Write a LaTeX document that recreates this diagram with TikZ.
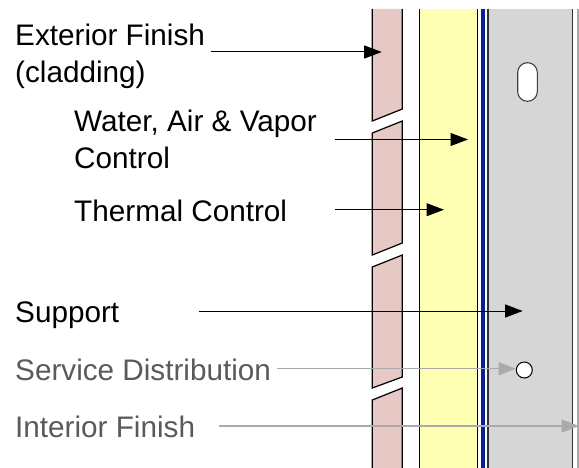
\documentclass[tikz,border=0pt]{standalone}
\usepackage{fontspec}
\setmainfont{Liberation Sans}
\usetikzlibrary{arrows.meta,positioning}
\definecolor{BrickPink}{RGB}{230,200,196}
\definecolor{SoftYellow}{RGB}{255,255,179}
\definecolor{MembraneBlue}{RGB}{10,30,150}
\definecolor{StudGray}{RGB}{214,214,214}
\definecolor{LabelGray}{RGB}{90,90,90}
\definecolor{ArrowGray}{RGB}{170,170,170}
\tikzset{
  layer/.style={draw=black, line width=1.2pt},
  walllabel/.style={inner sep=0pt, anchor=base west, align=left, font=\fontsize{29.7}{36.5}\selectfont},
  graylabel/.style={walllabel, text=LabelGray},
  arrow/.style={-{Triangle[length=17.5pt,width=13pt]}, line width=1pt, black},
  grayarrow/.style={-{Triangle[length=17.5pt,width=13pt]}, line width=1.4pt, ArrowGray}
}
\begin{document}
\begin{tikzpicture}[x=1pt,y=-1pt]
  \useasboundingbox (0,0) rectangle (579,468);
  % wall layers
  \fill[StudGray] (488,9) rectangle (572,468);
  \draw[layer, fill=BrickPink] (372.3,9) -- (372.3,121) -- (402.3,109) -- (402.3,9);
  \draw[layer, fill=BrickPink] (372.3,133) -- (402.3,121) -- (402.3,243) -- (372.3,255) -- cycle;
  \draw[layer, fill=BrickPink] (372.3,267) -- (402.3,255) -- (402.3,377) -- (372.3,388) -- cycle;
  \draw[layer, fill=BrickPink] (372.3,468) -- (372.3,400) -- (402.3,388) -- (402.3,468);
  \fill[SoftYellow] (419.3,9) rectangle (477.3,468);
  \draw[layer] (419.3,9) -- (419.3,468);
  \draw[layer] (477.3,9) -- (477.3,468);
  \fill[MembraneBlue] (480.6,9) rectangle (485.2,468);
  \draw[line width=1.4pt, black!80] (488,9) -- (488,468);
  \draw[line width=1pt, black!80] (572,9) -- (572,468);
  \draw[line width=1.2pt, ArrowGray] (578,9) -- (578,468);
  \node[draw=black!75, line width=1.1pt, fill=white, rounded corners=9.7pt,
    minimum width=19.6pt, minimum height=38.6pt, inner sep=0pt] (slot) at (527.5,82) {};
  \node[circle, draw=black, line width=1pt, fill=white, minimum size=16pt, inner sep=0pt] (pipe) at (524.3,370) {};
  % labels
  \node[walllabel] (exterior) at (15,82.5) {Exterior Finish\\(cladding)};
  \node[walllabel] (control) at (74,168.3) {Water, Air \& Vapor\\Control};
  \node[walllabel] (thermal) at (74,221.5) {Thermal Control};
  \node[walllabel] (support) at (15,322.5) {Support};
  \node[graylabel] (service) at (15,380) {Service Distribution};
  \node[graylabel] (interior) at (15,437.5) {Interior Finish};
  % free ends of the arrows
  \coordinate (exteriortip) at (381.7,52);
  \coordinate (controltip) at (468,139.5);
  \coordinate (thermaltip) at (444,209.7);
  \coordinate (supporttip) at (522.7,311);
  \coordinate (servicetip) at (516,368.7);
  \coordinate (interiortip) at (579,426);
  \draw[arrow] (exterior.east |- exteriortip) ++(6pt,0) -- (exteriortip);
  \draw[arrow] ([xshift=18pt]control.east |- controltip) -- (controltip);
  \draw[arrow] ([xshift=48pt]thermal.east |- thermaltip) -- (thermaltip);
  \draw[arrow] ([xshift=80pt]support.east |- supporttip) -- (supporttip);
  \draw[grayarrow] ([xshift=6pt]service.east |- servicetip) -- (servicetip);
  \draw[grayarrow] ([xshift=24pt]interior.east |- interiortip) -- (interiortip);
\end{tikzpicture}
\end{document}
